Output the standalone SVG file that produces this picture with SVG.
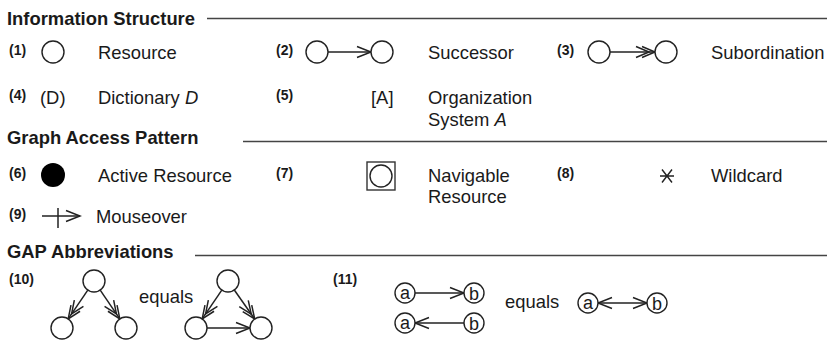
<svg xmlns="http://www.w3.org/2000/svg" width="827" height="342" viewBox="0 0 827 342">
  <style>
    .h { font-family: "Liberation Sans", Arial, sans-serif; font-weight: bold; font-size: 18.4px; fill: #1a1a1a; }
    .n { font-family: "Liberation Sans", Arial, sans-serif; font-weight: bold; font-size: 14px; fill: #1a1a1a; }
    .t { font-family: "Liberation Sans", Arial, sans-serif; font-size: 18.4px; fill: #1a1a1a; }
    .c { font-family: "Liberation Sans", Arial, sans-serif; font-size: 18px; fill: #1a1a1a; text-anchor: middle; }
    .rule { stroke: #444; stroke-width: 1.5; }
    .node { fill: #fff; stroke: #222; stroke-width: 1.4; }
    .edge { fill: none; stroke: #222; stroke-width: 1.5; }
  </style>
  <defs>
    <marker id="head" viewBox="-16 -7 18 14" refX="0" refY="0" markerWidth="18" markerHeight="14" markerUnits="userSpaceOnUse" orient="auto-start-reverse">
      <path d="M-14,-5.5 L0,0 L-14,5.5" fill="none" stroke="#222" stroke-width="1.5"/>
    </marker>
    <marker id="head2" viewBox="-22 -7 24 14" refX="0" refY="0" markerWidth="24" markerHeight="14" markerUnits="userSpaceOnUse" orient="auto">
      <path d="M-13,-5.5 L0,0 L-13,5.5 M-19,-5.5 L-6,0 L-19,5.5" fill="none" stroke="#222" stroke-width="1.5"/>
    </marker>
  </defs>

  <rect width="827" height="342" fill="#fff"/>

  <!-- section headings -->
  <g id="heading-information-structure">
    <text class="h" x="7" y="25">Information Structure</text>
    <line class="rule" x1="207" y1="18.5" x2="827" y2="18.5"/>
  </g>
  <g id="heading-graph-access-pattern">
    <text class="h" x="7" y="144">Graph Access Pattern</text>
    <line class="rule" x1="243" y1="141.5" x2="827" y2="141.5"/>
  </g>
  <g id="heading-gap-abbreviations">
    <text class="h" x="7" y="258">GAP Abbreviations</text>
    <line class="rule" x1="195" y1="255.5" x2="827" y2="255.5"/>
  </g>

  <!-- connectors -->
  <g id="connectors">
    <line class="edge" x1="328" y1="52" x2="371" y2="52" marker-end="url(#head)"/>
    <line class="edge" x1="610" y1="52" x2="655" y2="52" marker-end="url(#head2)"/>
    <line class="edge" x1="42" y1="216" x2="80" y2="216" marker-end="url(#head)"/>
    <line class="edge" x1="58" y1="208" x2="58" y2="228"/>
    <line class="edge" x1="87.8" y1="290.1" x2="68.2" y2="318.9" marker-end="url(#head2)"/>
    <line class="edge" x1="100.2" y1="290.1" x2="119.8" y2="318.9" marker-end="url(#head2)"/>
    <line class="edge" x1="221.8" y1="290.1" x2="202.2" y2="318.9" marker-end="url(#head2)"/>
    <line class="edge" x1="234.3" y1="290" x2="254.7" y2="319" marker-end="url(#head2)"/>
    <line class="edge" x1="207" y1="328" x2="250" y2="328" marker-end="url(#head)"/>
    <line class="edge" x1="415" y1="293" x2="464" y2="293" marker-end="url(#head)"/>
    <line class="edge" x1="464" y1="323" x2="415" y2="323" marker-end="url(#head)"/>
    <line class="edge" x1="598" y1="303" x2="647" y2="303" marker-start="url(#head)" marker-end="url(#head)"/>
  </g>

  <!-- (1) resource -->
  <g id="item-1">
    <text class="n" x="9" y="55">(1)</text>
    <circle class="node" cx="53" cy="52" r="11"/>
    <text class="t" x="98" y="58.5">Resource</text>
  </g>
  <!-- (2) successor -->
  <g id="item-2">
    <text class="n" x="276" y="55">(2)</text>
    <circle class="node" cx="317" cy="52" r="11"/>
    <circle class="node" cx="382" cy="52" r="11"/>
    <text class="t" x="428" y="58.5">Successor</text>
  </g>
  <!-- (3) subordination -->
  <g id="item-3">
    <text class="n" x="557" y="55">(3)</text>
    <circle class="node" cx="599" cy="52" r="11"/>
    <circle class="node" cx="666" cy="52" r="11"/>
    <text class="t" x="711" y="58.5">Subordination</text>
  </g>
  <!-- (4) dictionary -->
  <g id="item-4">
    <text class="n" x="9" y="100">(4)</text>
    <text class="t" x="40" y="103.5">(D)</text>
    <text class="t" x="98" y="103.5">Dictionary <tspan font-style="italic">D</tspan></text>
  </g>
  <!-- (5) organization system -->
  <g id="item-5">
    <text class="n" x="276" y="100">(5)</text>
    <text class="t" x="371" y="103.5">[A]</text>
    <text class="t" x="428" y="104">Organization</text>
    <text class="t" x="428" y="125.5">System <tspan font-style="italic">A</tspan></text>
  </g>
  <!-- (6) active resource -->
  <g id="item-6">
    <text class="n" x="9" y="178">(6)</text>
    <circle cx="53" cy="175" r="12" fill="#000"/>
    <text class="t" x="98" y="181.5">Active Resource</text>
  </g>
  <!-- (7) navigable resource -->
  <g id="item-7">
    <text class="n" x="276" y="178">(7)</text>
    <rect x="367" y="162" width="28" height="28" fill="#fff" stroke="#333" stroke-width="1.4"/>
    <circle class="node" cx="381" cy="176" r="11"/>
    <text class="t" x="428" y="181.5">Navigable</text>
    <text class="t" x="428" y="202.5">Resource</text>
  </g>
  <!-- (8) wildcard -->
  <g id="item-8">
    <text class="n" x="557" y="178">(8)</text>
    <path d="M660,176 H674 M662,169.5 L672,182.5 M672,169.5 L662,182.5" fill="none" stroke="#222" stroke-width="1.4"/>
    <text class="t" x="711" y="181.5">Wildcard</text>
  </g>
  <!-- (9) mouseover -->
  <g id="item-9">
    <text class="n" x="9" y="219">(9)</text>
    <text class="t" x="96" y="222.5">Mouseover</text>
  </g>
  <!-- (10) subordination tree abbreviation -->
  <g id="item-10">
    <text class="n" x="9" y="284">(10)</text>
    <circle class="node" cx="94" cy="281" r="11"/>
    <circle class="node" cx="62" cy="328" r="11"/>
    <circle class="node" cx="126" cy="328" r="11"/>
    <text class="t" x="139" y="303">equals</text>
    <circle class="node" cx="228" cy="281" r="11"/>
    <circle class="node" cx="196" cy="328" r="11"/>
    <circle class="node" cx="261" cy="328" r="11"/>
  </g>
  <!-- (11) bidirectional abbreviation -->
  <g id="item-11">
    <text class="n" x="333" y="284">(11)</text>
    <circle class="node" cx="405" cy="293" r="10"/>
    <text class="c" x="405" y="299">a</text>
    <circle class="node" cx="474" cy="293" r="10"/>
    <text class="c" x="474" y="299.5">b</text>
    <circle class="node" cx="405" cy="323" r="10"/>
    <text class="c" x="405" y="329">a</text>
    <circle class="node" cx="474" cy="323" r="10"/>
    <text class="c" x="474" y="329.5">b</text>
    <text class="t" x="505" y="308">equals</text>
    <circle class="node" cx="588" cy="303" r="10"/>
    <text class="c" x="588" y="309">a</text>
    <circle class="node" cx="657" cy="303" r="10"/>
    <text class="c" x="657" y="309.5">b</text>
  </g>
</svg>
